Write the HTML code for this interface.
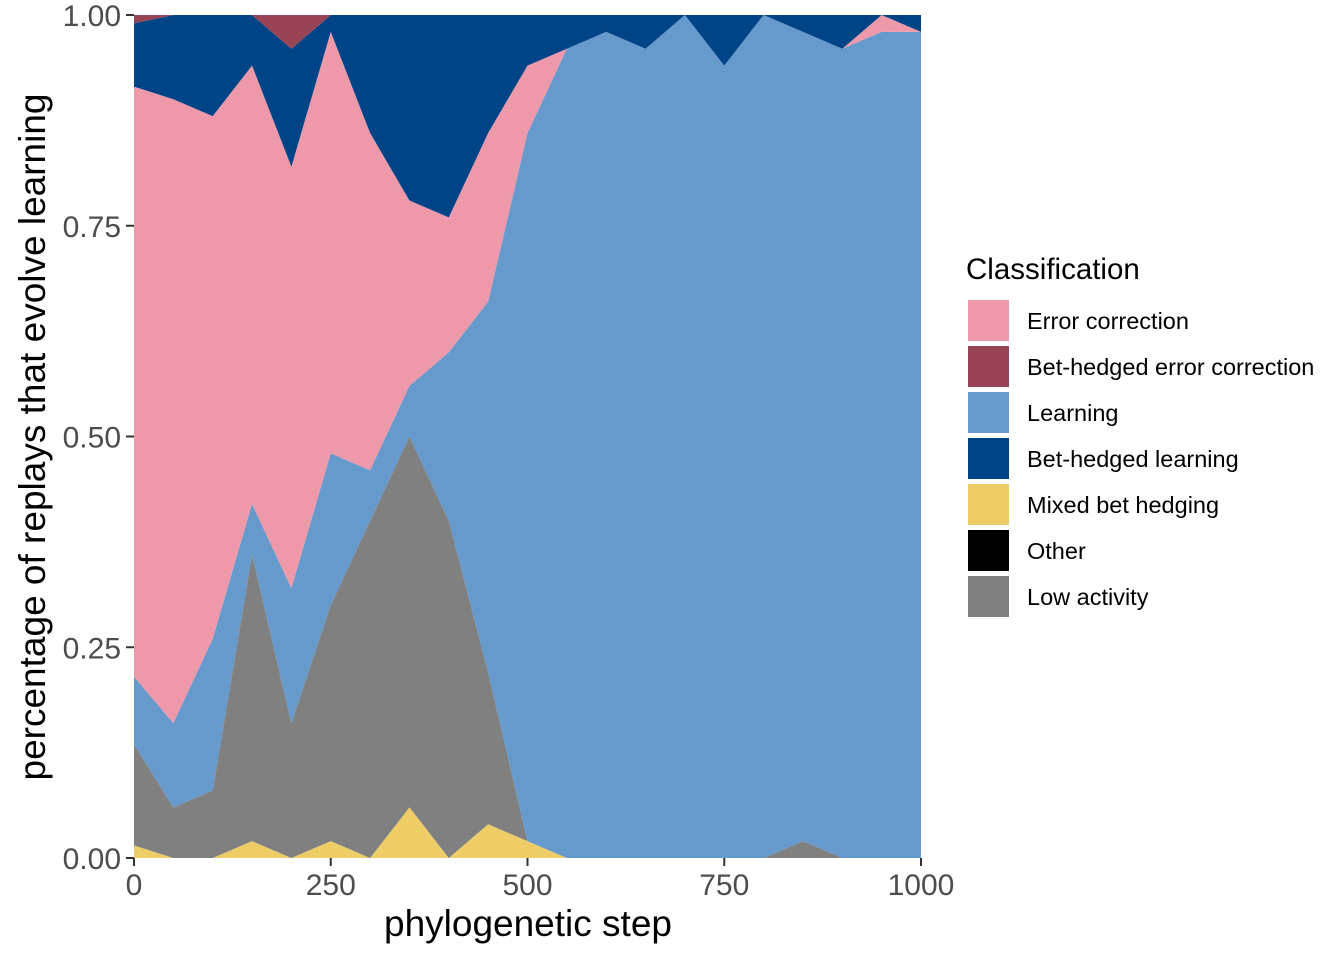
<!DOCTYPE html>
<html><head><meta charset="utf-8"><style>body{margin:0;background:#fff}svg{display:block}text{font-family:"Liberation Sans",sans-serif}</style></head>
<body>
<svg id="chart" width="1344" height="960" xmlns="http://www.w3.org/2000/svg">
<g id="areas"></g>
<g id="axes"></g>
<text x="528" y="936" font-size="37" text-anchor="middle" fill="#000">phylogenetic step</text>
<text transform="translate(45,437) rotate(-90)" font-size="37" text-anchor="middle" fill="#000">percentage of replays that evolve learning</text>
<g id="legend"><text x="966" y="279" font-size="29.5" fill="#000">Classification</text></g>
</svg>
<script>
const steps=[0,50,100,150,200,250,300,350,400,450,500,550,600,650,700,750,800,850,900,950,1000];
const mixed=[0.015,0,0,0.02,0,0.02,0,0.06,0,0.04,0.02,0,0,0,0,0,0,0,0,0,0];
const other=[0,0,0,0,0,0,0,0,0,0,0,0,0,0,0,0,0,0,0,0,0];
const lowActivity=[0.12,0.06,0.08,0.34,0.16,0.28,0.40,0.44,0.40,0.18,0,0,0,0,0,0,0,0.02,0,0,0];
const learning=[0.08,0.10,0.18,0.06,0.16,0.18,0.06,0.06,0.20,0.44,0.84,0.96,0.98,0.96,1.0,0.94,1.0,0.96,0.96,0.98,0.98];
const errorCorrection=[0.70,0.74,0.62,0.52,0.50,0.50,0.40,0.22,0.16,0.20,0.08,0,0,0,0,0,0,0,0,0.02,0];
const betHedgedLearning=[0.075,0.10,0.12,0.06,0.14,0.02,0.14,0.22,0.24,0.14,0.06,0.04,0.02,0.04,0,0.06,0,0.02,0.04,0,0.02];
const betHedgedError=[0.01,0,0,0,0.04,0,0,0,0,0,0,0,0,0,0,0,0,0,0,0,0];
const xTicks=[0,250,500,750,1000];
const yTicks=[0,0.25,0.5,0.75,1];
const yTickLabels=["0.00","0.25","0.50","0.75","1.00"];
const NS="http://www.w3.org/2000/svg";
const X=v=>134+v/1000*787, Y=v=>858-v*843;
const series=[["mixed-bet-hedging",mixed,"#EECC66"],["other",other,"#000000"],["low-activity",lowActivity,"#808080"],["learning",learning,"#6699CC"],["error-correction",errorCorrection,"#EE99AA"],["bet-hedged-learning",betHedgedLearning,"#004488"],["bet-hedged-error-correction",betHedgedError,"#994455"]];
const areas=document.getElementById('areas');
let base=steps.map(()=>0);
series.forEach(([n,vals,c])=>{
  const top=base.map((b,i)=>b+vals[i]);
  let d="M"+steps.map((s,i)=>X(s)+","+Y(top[i])).join("L")+"L"+steps.slice().reverse().map((s,j)=>{const i=steps.length-1-j;return X(s)+","+Y(base[i]);}).join("L")+"Z";
  const p=document.createElementNS(NS,"path");p.setAttribute("d",d);p.setAttribute("fill",c);
  
  
  areas.appendChild(p);base=top;
});
const axes=document.getElementById('axes');
function mk(tag,attrs,txt){const e=document.createElementNS(NS,tag);for(const k in attrs)e.setAttribute(k,attrs[k]);if(txt!==undefined)e.textContent=txt;axes.appendChild(e);return e;}
xTicks.forEach(t=>{
  const l=mk("line",{x1:X(t),x2:X(t),y1:858,y2:866,stroke:"#333","stroke-width":2});
  
  
  const tx=mk("text",{x:X(t),y:895,"font-size":30,"text-anchor":"middle",fill:"#4d4d4d"},String(t));
  
  
});
yTicks.forEach((t,i)=>{
  const l=mk("line",{x1:126,x2:134,y1:Y(t),y2:Y(t),stroke:"#333","stroke-width":2});
  
  
  const tx=mk("text",{x:121,y:Y(t)+11,"font-size":30,"text-anchor":"end",fill:"#4d4d4d"},yTickLabels[i]);
  
  
});
const legendItems=[["Error correction","#EE99AA"],["Bet-hedged error correction","#994455"],["Learning","#6699CC"],["Bet-hedged learning","#004488"],["Mixed bet hedging","#EECC66"],["Other","#000000"],["Low activity","#808080"]];
const lg=document.getElementById('legend');
legendItems.forEach(([t,c],i)=>{
  const g=document.createElementNS(NS,"g");
  
  
  const r=document.createElementNS(NS,"rect");
  r.setAttribute("x",967);r.setAttribute("y",299+i*46);r.setAttribute("width",43);r.setAttribute("height",43);r.setAttribute("fill",c);r.setAttribute("stroke","#fff");r.setAttribute("stroke-width",2);
  
  
  const tx=document.createElementNS(NS,"text");
  tx.setAttribute("x",1027);tx.setAttribute("y",329+i*46);tx.setAttribute("font-size",23.5);tx.setAttribute("fill","#000");tx.textContent=t;
  
  
  g.appendChild(r);g.appendChild(tx);lg.appendChild(g);
});
</script>
</body></html>
